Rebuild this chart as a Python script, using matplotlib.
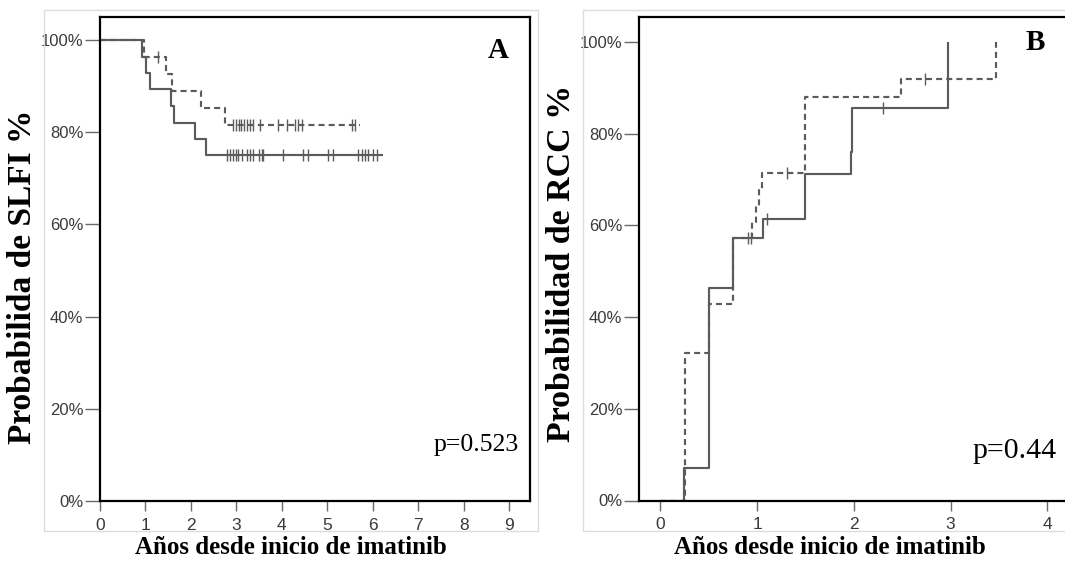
import numpy as np
import matplotlib
matplotlib.use("Agg")
import matplotlib.pyplot as plt
from matplotlib.patches import Rectangle
from matplotlib.ticker import FuncFormatter

# ---- Panel A: survival (SLFI), two groups ----
a_solid_t = [0, 0.92, 1.02, 1.11, 1.56, 1.63, 2.09, 2.33]
a_solid_s = [100, 96.4, 92.9, 89.3, 85.7, 82.1, 78.6, 75.0]
a_solid_end = 6.23
a_solid_cens = [2.79, 2.86, 2.92, 2.99, 3.04, 3.12, 3.23, 3.30, 3.37, 3.50,
                3.56, 3.59, 4.03, 4.47, 4.58, 5.02, 5.13, 5.68, 5.76, 5.83,
                5.90, 6.01, 6.09]

a_dash_t = [0, 0.97, 1.45, 1.59, 2.22, 2.75]
a_dash_s = [100, 96.4, 92.7, 89.0, 85.3, 81.6]
a_dash_end = 5.72
a_dash_cens = [1.28, 2.93, 2.99, 3.05, 3.11, 3.17, 3.23, 3.30, 3.37, 3.52,
               3.92, 4.11, 4.29, 4.36, 4.44, 5.54, 5.61]

# ---- Panel B: cumulative probability of RCC, two groups ----
b_solid_t = [0, 0.243, 0.505, 0.747, 1.06, 1.494, 1.965, 1.985, 2.97]
b_solid_v = [0, 7.1, 46.4, 57.2, 61.4, 71.1, 76.0, 85.5, 100]
b_solid_cens = [1.10, 2.30]

b_dash_t = [0, 0.256, 0.50, 0.747, 0.95, 0.99, 1.02, 1.05, 1.494, 2.484, 3.47]
b_dash_v = [0, 32.1, 42.9, 57.2, 60.8, 64.3, 67.8, 71.3, 87.9, 91.9, 100]
b_dash_cens = [0.91, 0.94, 1.305, 2.735]

a_xticks = list(range(0, 10))
b_xticks = list(range(0, 5))
yticks = [0, 20, 40, 60, 80, 100]

LINE = "#5b5b5b"
DASH = (0, (2.8, 1.9))
SERIF = ["Liberation Serif", "DejaVu Serif"]
SANS = ["Liberation Sans", "DejaVu Sans"]

W, H = 1065, 562
fig = plt.figure(figsize=(W / 100, H / 100), dpi=100)


def px_axes(x0, x1, ytop, ybot):
    return fig.add_axes([x0 / W, (H - ybot) / H, (x1 - x0) / W, (ybot - ytop) / H])


def ftext(x, y, s, **kw):
    return fig.text(x / W, (H - y) / H, s, **kw)


def level_at(t, times, vals):
    idx = np.searchsorted(times, t, side="right") - 1
    return np.asarray(vals)[idx]


def draw_curve(ax, times, vals, end, cens, ls):
    t = list(times)
    v = list(vals)
    if end is not None:
        t = t + [end]
        v = v + [v[-1]]
    ax.step(t, v, where="post", color=LINE, lw=1.55, ls=ls, solid_capstyle="butt")
    if cens:
        cy = level_at(np.array(cens), times, vals)
        ax.plot(cens, cy, ls="none", marker="|", ms=8, mew=1.0, color=LINE)


def style(ax, xticks):
    for s in ax.spines.values():
        s.set_linewidth(1.6)
        s.set_color("black")
    ax.set_yticks(yticks)
    ax.set_xticks(xticks)
    ax.yaxis.set_major_formatter(FuncFormatter(lambda v, p: f"{int(v)}%"))
    ax.tick_params(axis="y", direction="out", length=11, width=1.0, color="#6a6a6a",
                   labelcolor="#3a3a3a", labelsize=12, pad=1)
    ax.tick_params(axis="x", direction="out", length=7, width=1.0, color="#6a6a6a",
                   labelcolor="#3a3a3a", labelsize=12.5, pad=5)
    for lab in ax.get_xticklabels() + ax.get_yticklabels():
        lab.set_family(SANS)


# light chart frames
for (fx0, fx1) in [(44, 538), (583, 1080)]:
    fig.add_artist(Rectangle((fx0 / W, (H - 531) / H), (fx1 - fx0) / W, (531 - 10) / H,
                             transform=fig.transFigure, fill=False, ec="#dcdcdc", lw=1.0))

# Panel A
axA = px_axes(100, 530, 17, 501)
draw_curve(axA, a_solid_t, a_solid_s, a_solid_end, a_solid_cens, "-")
draw_curve(axA, a_dash_t, a_dash_s, a_dash_end, a_dash_cens, DASH)
axA.set_xlim(0, 9.46)
axA.set_ylim(0, 105)
style(axA, a_xticks)
ftext(498, 51, "A", fontsize=21, fontweight="bold", family=SERIF, ha="center", va="center")
ftext(519, 445, "p=0.523", fontsize=18.5, family=SERIF, ha="right", va="center")
ftext(23, 277, "Probabilida de SLFI %", rotation=90, fontsize=24,
      fontweight="bold", family=SERIF, ha="center", va="center")
ftext(291, 547, "Años desde inicio de imatinib", fontsize=18,
      fontweight="bold", family=SERIF, ha="center", va="center")

# Panel B
axB = px_axes(639, 1072, 17, 500.5)
draw_curve(axB, b_solid_t, b_solid_v, None, b_solid_cens, "-")
draw_curve(axB, b_dash_t, b_dash_v, None, b_dash_cens, DASH)
axB.set_xlim(-0.222, 4.255)
axB.set_ylim(0, 105.4)
style(axB, b_xticks)
ftext(1035, 42, "B", fontsize=21, fontweight="bold", family=SERIF, ha="center", va="center")
ftext(972, 451, "p=0.44", fontsize=21.5, family=SERIF, ha="left", va="center")
ftext(561, 263, "Probabilidad de RCC %", rotation=90, fontsize=24.5,
      fontweight="bold", family=SERIF, ha="center", va="center")
ftext(830, 547, "Años desde inicio de imatinib", fontsize=18,
      fontweight="bold", family=SERIF, ha="center", va="center")

fig.savefig("out.png", dpi=100)
